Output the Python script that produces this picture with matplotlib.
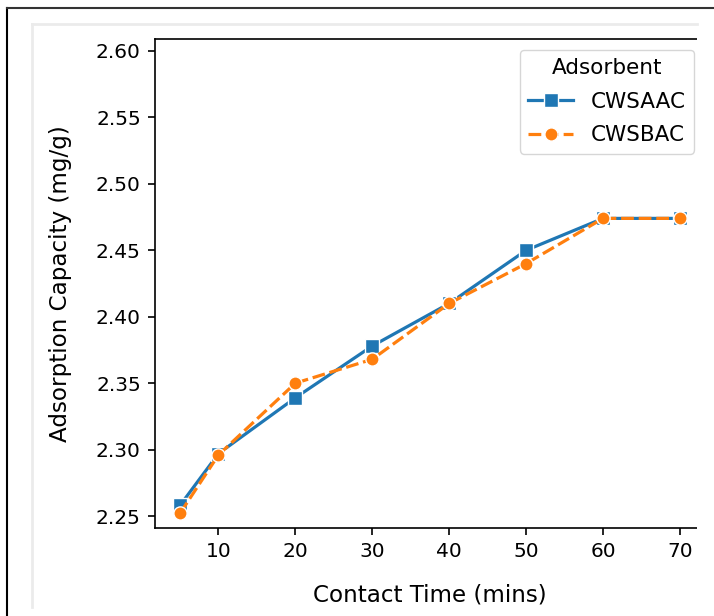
import numpy as np
import matplotlib
matplotlib.use("Agg")
import matplotlib.pyplot as plt
from matplotlib.patches import Rectangle
from matplotlib.lines import Line2D

# data
time_mins = [5, 10, 20, 30, 40, 50, 60, 70]
cwsaac = [2.258, 2.297, 2.339, 2.378, 2.410, 2.450, 2.474, 2.474]
cwsbac = [2.252, 2.296, 2.350, 2.368, 2.410, 2.440, 2.474, 2.474]
series_names = ['CWSAAC', 'CWSBAC']
x_ticks = [10, 20, 30, 40, 50, 60, 70]
y_ticks = [2.25, 2.30, 2.35, 2.40, 2.45, 2.50, 2.55, 2.60]

W, H = 714, 616
fig = plt.figure(figsize=(W/100, H/100), dpi=100)
fs = 14.5
fs_lab = 16.6
fs_leg = 15.5

ax = fig.add_axes([155/W, (H-528)/H, (705-155)/W, (528-39)/H])

blue = '#1f77b4'
orange = '#ff7f0e'
lw = 2.3
ms = 9.5

ax.plot(time_mins, cwsaac, color=blue, lw=lw, marker='s', ms=ms,
        mec='white', mew=1)
ax.plot(time_mins, cwsbac, color=orange, lw=lw, marker='o', ms=ms,
        mec='white', mew=1, dashes=(4, 1.5))

ax.set_xlim(1.75, 73.25)
ax.set_ylim(2.241, 2.609)
ax.set_xticks(x_ticks)
ax.set_yticks(y_ticks)
ax.set_yticklabels(['%.2f' % v for v in y_ticks])
ax.tick_params(labelsize=fs, length=5.2, width=1.2, pad=5)
for s in ax.spines.values():
    s.set_linewidth(1.2)

ax.set_xlabel('Contact Time (mins)', fontsize=fs_lab, labelpad=16)
ax.set_ylabel('Adsorption Capacity (mg/g)', fontsize=fs_lab, labelpad=17)

handles = [
    Line2D([], [], color=blue, lw=lw, marker='s', ms=ms, mec='white', mew=1),
    Line2D([], [], color=orange, lw=lw, marker='o', ms=ms, mec='white', mew=1,
           dashes=(4, 1.5)),
]
ax.legend(handles, series_names, title='Adsorbent', loc='upper right',
          fontsize=fs_leg, title_fontsize=fs_leg, handlelength=2.1,
          labelspacing=0.62)

# screenshot frame: crop on the right plus borders
fig.add_artist(Rectangle((697/W, 0), 17/W, (H-10)/H, transform=fig.transFigure,
                         facecolor='white', edgecolor='none', zorder=10))
fig.add_artist(Line2D([32/W, 32/W], [(H-607)/H, (H-24)/H], transform=fig.transFigure,
                      color='#ebebeb', lw=2, zorder=11))
fig.add_artist(Line2D([32/W, 697/W], [(H-24)/H, (H-24)/H], transform=fig.transFigure,
                      color='#ebebeb', lw=2, zorder=11))
fig.add_artist(Line2D([7/W, 7/W], [0, (H-8)/H], transform=fig.transFigure,
                      color='black', lw=1.5, zorder=11))
fig.add_artist(Line2D([7/W, 1], [(H-8)/H, (H-8)/H], transform=fig.transFigure,
                      color='#333333', lw=1.5, zorder=11))

fig.savefig('out.png', dpi=100)
